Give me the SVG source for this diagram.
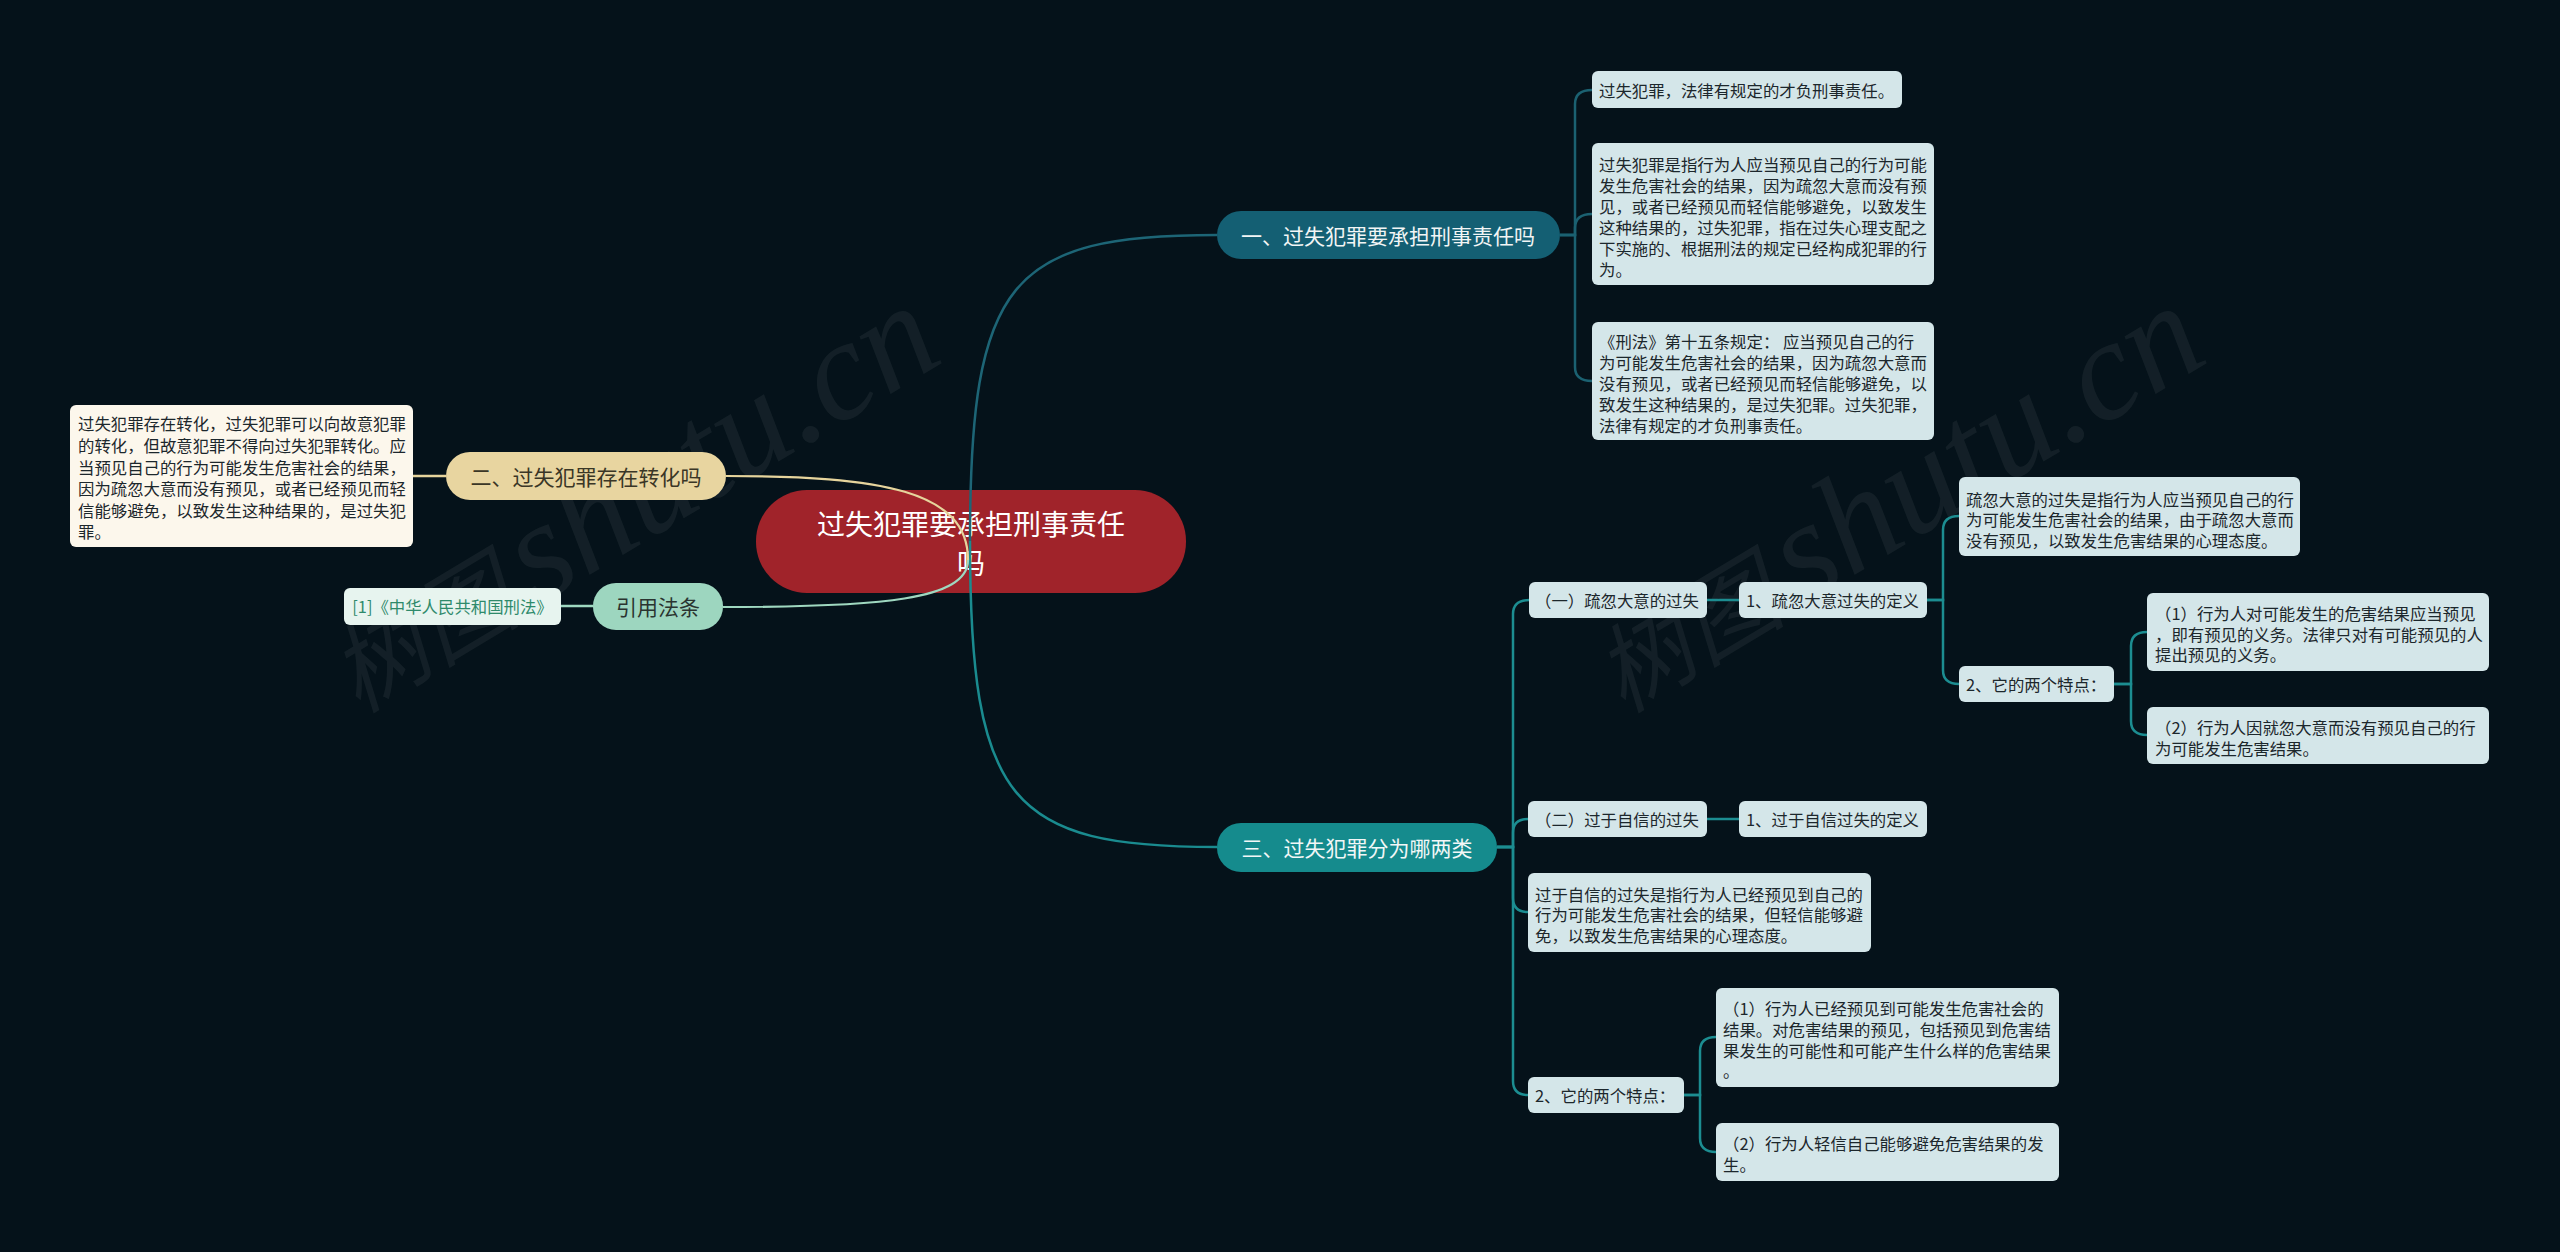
<svg xmlns="http://www.w3.org/2000/svg" width="2560" height="1252" viewBox="0 0 2560 1252">
<style>
text{font-family:'Noto Sans CJK SC','Noto Sans',sans-serif;dominant-baseline:central}
.s{font-size:16.4px;fill:#1c272c}
.lbox{fill:#d4e6e9}
.c1{fill:none;stroke:#1b6171;stroke-width:2.5}
.c3{fill:none;stroke:#1c8d91;stroke-width:2.5}
.wm{fill:#ffffff;fill-opacity:0.058;font-family:'Liberation Serif','Noto Sans CJK SC',serif;font-style:italic;dominant-baseline:alphabetic}
</style>
<rect width="2560" height="1252" fill="#05121a"/>
<g id="watermarks">
<text class="wm" transform="translate(358,714) rotate(-31)"><tspan font-size="96" font-family="Noto Sans CJK SC">树图</tspan><tspan font-size="142" dx="18">shutu.cn</tspan></text>
<text class="wm" transform="translate(1623,714) rotate(-31)"><tspan font-size="96" font-family="Noto Sans CJK SC">树图</tspan><tspan font-size="142" dx="18">shutu.cn</tspan></text>
</g>
<g id="root">
<rect x="756" y="490" width="430" height="103" rx="51" fill="#a0232a"/>
<text x="971" y="523" text-anchor="middle" font-size="28" fill="#ffffff">过失犯罪要承担刑事责任</text>
<text x="971" y="562" text-anchor="middle" font-size="28" fill="#ffffff">吗</text>
</g>
<g id="connectors">
<path d="M970,541 C970,280 1010,235 1217,235" fill="none" stroke="#1d6576" stroke-width="2.5"/>
<path d="M970,541 C970,802 1010,847 1217,847" fill="none" stroke="#1a8b8f" stroke-width="2.5"/>
<path d="M968,560 C968,490 880,476 726,476" fill="none" stroke="#e6d49c" stroke-width="2.2"/>
<path d="M968,560 C968,600 880,607 723,607" fill="none" stroke="#9fd8c0" stroke-width="2.2"/>
<path d="M446,476 H413" fill="none" stroke="#e6d49c" stroke-width="2.5"/>
<path d="M593,606 H561" fill="none" stroke="#9fd8c0" stroke-width="2.5"/>
<path class="c1" d="M1560,235 H1575 V104 Q1575,90 1592,90"/>
<path class="c1" d="M1560,235 H1575 V228 Q1575,214 1592,214"/>
<path class="c1" d="M1560,235 H1575 V367 Q1575,381 1592,381"/>
<path class="c3" d="M1497,847 H1513 V614 Q1513,600 1529,600"/>
<path class="c3" d="M1497,847 H1513 V833 Q1513,819 1528,819"/>
<path class="c3" d="M1497,847 H1513 V898 Q1513,912 1528,912"/>
<path class="c3" d="M1497,847 H1513 V1081 Q1513,1095 1528,1095"/>
<path class="c3" d="M1707,600 H1739"/>
<path class="c3" d="M1927,600 H1943 V530 Q1943,516 1959,516"/>
<path class="c3" d="M1927,600 H1943 V670 Q1943,684 1959,684"/>
<path class="c3" d="M2114,684 H2131 V646 Q2131,632 2147,632"/>
<path class="c3" d="M2114,684 H2131 V721 Q2131,735 2147,735"/>
<path class="c3" d="M1707,819 H1739"/>
<path class="c3" d="M1684,1095 H1700 V1051 Q1700,1037 1716,1037"/>
<path class="c3" d="M1684,1095 H1700 V1138 Q1700,1152 1716,1152"/>
</g>
<g id="b1">
<rect x="1217" y="211" width="343" height="48" rx="24" fill="#145f73"/>
<text x="1388" y="235" text-anchor="middle" font-size="21" fill="#f2f5f5">一、过失犯罪要承担刑事责任吗</text>
</g>
<g id="b1-n1">
<rect class="lbox" x="1592" y="71" width="310" height="37" rx="6"/>
<text class="s" x="1599" y="90">过失犯罪，法律有规定的才负刑事责任。</text>
</g>
<g id="b1-n2">
<rect class="lbox" x="1592" y="143" width="342" height="142" rx="6"/>
<text class="s" x="1599" y="163.5">过失犯罪是指行为人应当预见自己的行为可能</text>
<text class="s" x="1599" y="184.5">发生危害社会的结果，因为疏忽大意而没有预</text>
<text class="s" x="1599" y="205.5">见，或者已经预见而轻信能够避免，以致发生</text>
<text class="s" x="1599" y="226.5">这种结果的，过失犯罪，指在过失心理支配之</text>
<text class="s" x="1599" y="247.5">下实施的、根据刑法的规定已经构成犯罪的行</text>
<text class="s" x="1599" y="268.5">为。</text>
</g>
<g id="b1-n3">
<rect class="lbox" x="1592" y="322" width="342" height="118" rx="6"/>
<text class="s" x="1599" y="340.5">《刑法》第十五条规定： 应当预见自己的行</text>
<text class="s" x="1599" y="361.5">为可能发生危害社会的结果，因为疏忽大意而</text>
<text class="s" x="1599" y="382.5">没有预见，或者已经预见而轻信能够避免，以</text>
<text class="s" x="1599" y="403.5">致发生这种结果的，是过失犯罪。过失犯罪，</text>
<text class="s" x="1599" y="424.5">法律有规定的才负刑事责任。</text>
</g>
<g id="b2">
<rect x="446" y="452" width="280" height="48" rx="24" fill="#e8d5a0"/>
<text x="586" y="476" text-anchor="middle" font-size="21" fill="#3a3626">二、过失犯罪存在转化吗</text>
</g>
<g id="b2-n1">
<rect x="70" y="405" width="343" height="142" rx="6" fill="#fcf7ec"/>
<text class="s" x="78" y="423.3" fill="#2b2b2b">过失犯罪存在转化，过失犯罪可以向故意犯罪</text>
<text class="s" x="78" y="444.9">的转化，但故意犯罪不得向过失犯罪转化。应</text>
<text class="s" x="78" y="466.5">当预见自己的行为可能发生危害社会的结果，</text>
<text class="s" x="78" y="488.1">因为疏忽大意而没有预见，或者已经预见而轻</text>
<text class="s" x="78" y="509.7">信能够避免，以致发生这种结果的，是过失犯</text>
<text class="s" x="78" y="531.3">罪。</text>
</g>
<g id="ref">
<rect x="593" y="583" width="130" height="47" rx="23" fill="#9dd6bf"/>
<text x="658" y="606" text-anchor="middle" font-size="21" fill="#2a3430">引用法条</text>
</g>
<g id="ref-n1">
<rect x="344" y="588" width="217" height="37" rx="6" fill="#e7f4ef"/>
<text x="452.5" y="606" text-anchor="middle" font-size="16.4" fill="#2e8a6b">[1]《中华人民共和国刑法》</text>
</g>
<g id="b3">
<rect x="1217" y="823" width="280" height="49" rx="24" fill="#158b8d"/>
<text x="1357" y="847" text-anchor="middle" font-size="21" fill="#f2f7f7">三、过失犯罪分为哪两类</text>
</g>
<g id="b3-n1">
<rect class="lbox" x="1529" y="582" width="178" height="36" rx="6"/>
<text class="s" x="1535" y="600">（一）疏忽大意的过失</text>
</g>
<g id="b3-n1-a">
<rect class="lbox" x="1739" y="582" width="188" height="36" rx="6"/>
<text class="s" x="1746" y="600">1、疏忽大意过失的定义</text>
</g>
<g id="b3-n1-a1">
<rect class="lbox" x="1959" y="477" width="341" height="79" rx="6"/>
<text class="s" x="1966" y="498.5">疏忽大意的过失是指行为人应当预见自己的行</text>
<text class="s" x="1966" y="519.3">为可能发生危害社会的结果，由于疏忽大意而</text>
<text class="s" x="1966" y="540.1">没有预见，以致发生危害结果的心理态度。</text>
</g>
<g id="b3-n1-b">
<rect class="lbox" x="1959" y="666" width="155" height="36" rx="6"/>
<text class="s" x="1966" y="684">2、它的两个特点：</text>
</g>
<g id="b3-n1-b1">
<rect class="lbox" x="2147" y="593" width="342" height="78" rx="6"/>
<text class="s" x="2155" y="613">（1）行为人对可能发生的危害结果应当预见</text>
<text class="s" x="2155" y="633.7">，即有预见的义务。法律只对有可能预见的人</text>
<text class="s" x="2155" y="654.4">提出预见的义务。</text>
</g>
<g id="b3-n1-b2">
<rect class="lbox" x="2147" y="707" width="342" height="57" rx="6"/>
<text class="s" x="2155" y="726.8">（2）行为人因就忽大意而没有预见自己的行</text>
<text class="s" x="2155" y="747.5">为可能发生危害结果。</text>
</g>
<g id="b3-n2">
<rect class="lbox" x="1528" y="801" width="179" height="36" rx="6"/>
<text class="s" x="1535" y="819">（二）过于自信的过失</text>
</g>
<g id="b3-n2-a">
<rect class="lbox" x="1739" y="801" width="188" height="36" rx="6"/>
<text class="s" x="1746" y="819">1、过于自信过失的定义</text>
</g>
<g id="b3-n3">
<rect class="lbox" x="1528" y="873" width="343" height="79" rx="6"/>
<text class="s" x="1535" y="893.5">过于自信的过失是指行为人已经预见到自己的</text>
<text class="s" x="1535" y="914.2">行为可能发生危害社会的结果，但轻信能够避</text>
<text class="s" x="1535" y="934.9">免，以致发生危害结果的心理态度。</text>
</g>
<g id="b3-n4">
<rect class="lbox" x="1528" y="1077" width="156" height="36" rx="6"/>
<text class="s" x="1535" y="1095">2、它的两个特点：</text>
</g>
<g id="b3-n4-a">
<rect class="lbox" x="1716" y="988" width="343" height="99" rx="6"/>
<text class="s" x="1723" y="1008.3">（1）行为人已经预见到可能发生危害社会的</text>
<text class="s" x="1723" y="1029">结果。对危害结果的预见，包括预见到危害结</text>
<text class="s" x="1723" y="1049.7">果发生的可能性和可能产生什么样的危害结果</text>
<text class="s" x="1723" y="1070.4">。</text>
</g>
<g id="b3-n4-b">
<rect class="lbox" x="1716" y="1123" width="343" height="58" rx="6"/>
<text class="s" x="1723" y="1143.3">（2）行为人轻信自己能够避免危害结果的发</text>
<text class="s" x="1723" y="1164">生。</text>
</g>
</svg>
